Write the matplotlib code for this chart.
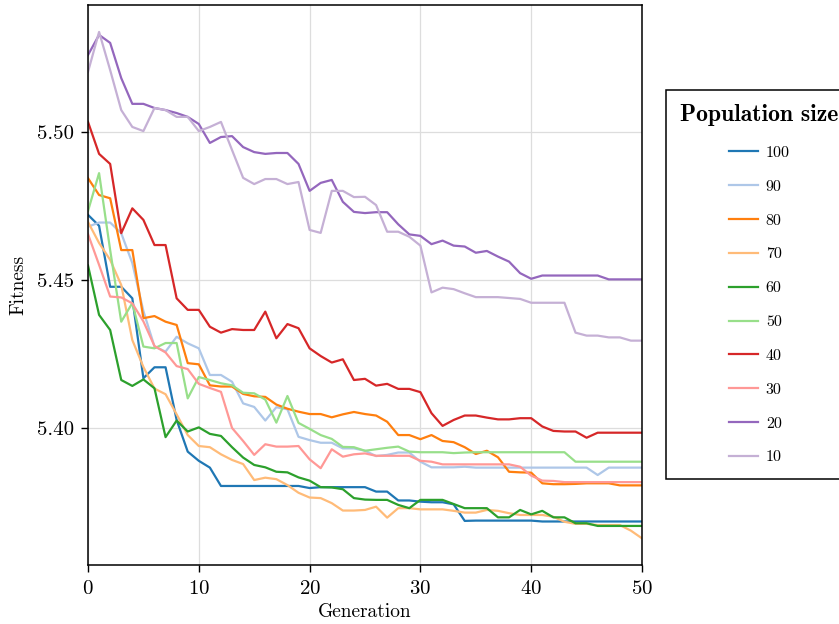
import numpy as np
import matplotlib
matplotlib.use("Agg")
import matplotlib.pyplot as plt
from matplotlib.ticker import FormatStrFormatter
from matplotlib.font_manager import FontProperties

plt.rcParams["font.family"] = ["cmr10", "DejaVu Serif"]
plt.rcParams["mathtext.fontset"] = "cm"
plt.rcParams["axes.formatter.use_mathtext"] = True

generations = np.arange(51)

pop_sizes = ["100", "90", "80", "70", "60", "50", "40", "30", "20", "10"]
colors = ["#1f77b4", "#aec7e8", "#ff7f0e", "#ffbb78", "#2ca02c",
          "#98df8a", "#d62728", "#ff9896", "#9467bd", "#c5b0d5"]

fit_100 = [5.4720, 5.4683, 5.4477, 5.4477, 5.4438, 5.4168, 5.4205, 5.4205, 5.4027, 5.3920,
           5.3889, 5.3866, 5.3804, 5.3804, 5.3804, 5.3804, 5.3804, 5.3804, 5.3804, 5.3804,
           5.3797, 5.3800, 5.3800, 5.3800, 5.3800, 5.3800, 5.3785, 5.3785, 5.3755, 5.3755,
           5.3751, 5.3749, 5.3749, 5.3742, 5.3686, 5.3687, 5.3687, 5.3687, 5.3687, 5.3687,
           5.3687, 5.3684, 5.3684, 5.3684, 5.3684, 5.3684, 5.3684, 5.3684, 5.3684, 5.3684,
           5.3684]
fit_90 = [5.4680, 5.4694, 5.4694, 5.4658, 5.4557, 5.4395, 5.4275, 5.4258, 5.4308, 5.4286,
          5.4269, 5.4179, 5.4179, 5.4156, 5.4083, 5.4071, 5.4025, 5.4070, 5.4063, 5.3970,
          5.3959, 5.3950, 5.3950, 5.3931, 5.3931, 5.3923, 5.3905, 5.3909, 5.3917, 5.3917,
          5.3886, 5.3867, 5.3867, 5.3867, 5.3869, 5.3866, 5.3866, 5.3866, 5.3866, 5.3866,
          5.3866, 5.3866, 5.3866, 5.3866, 5.3866, 5.3866, 5.3841, 5.3866, 5.3866, 5.3866,
          5.3866]
fit_80 = [5.4844, 5.4787, 5.4776, 5.4601, 5.4601, 5.4371, 5.4378, 5.4359, 5.4348, 5.4219,
          5.4215, 5.4144, 5.4140, 5.4140, 5.4115, 5.4107, 5.4105, 5.4079, 5.4065, 5.4055,
          5.4047, 5.4047, 5.4036, 5.4046, 5.4054, 5.4047, 5.4042, 5.4021, 5.3976, 5.3976,
          5.3962, 5.3976, 5.3956, 5.3952, 5.3935, 5.3912, 5.3923, 5.3901, 5.3852, 5.3850,
          5.3849, 5.3813, 5.3810, 5.3810, 5.3811, 5.3813, 5.3813, 5.3813, 5.3806, 5.3806,
          5.3806]
fit_70 = [5.4696, 5.4625, 5.4568, 5.4483, 5.4297, 5.4206, 5.4133, 5.4114, 5.4046, 5.3976,
          5.3939, 5.3935, 5.3911, 5.3892, 5.3878, 5.3824, 5.3832, 5.3827, 5.3807, 5.3781,
          5.3765, 5.3763, 5.3746, 5.3721, 5.3721, 5.3723, 5.3734, 5.3697, 5.3729, 5.3729,
          5.3725, 5.3725, 5.3725, 5.3720, 5.3714, 5.3714, 5.3723, 5.3720, 5.3712, 5.3706,
          5.3706, 5.3706, 5.3700, 5.3683, 5.3676, 5.3676, 5.3672, 5.3672, 5.3672, 5.3653,
          5.3627]
fit_60 = [5.4549, 5.4382, 5.4331, 5.4162, 5.4142, 5.4164, 5.4134, 5.3969, 5.4025, 5.3988,
          5.4002, 5.3980, 5.3973, 5.3935, 5.3900, 5.3875, 5.3867, 5.3852, 5.3850, 5.3833,
          5.3822, 5.3800, 5.3799, 5.3793, 5.3763, 5.3758, 5.3757, 5.3757, 5.3740, 5.3729,
          5.3757, 5.3757, 5.3757, 5.3743, 5.3729, 5.3729, 5.3729, 5.3698, 5.3698, 5.3723,
          5.3708, 5.3720, 5.3698, 5.3698, 5.3678, 5.3678, 5.3669, 5.3669, 5.3669, 5.3669,
          5.3669]
fit_50 = [5.4733, 5.4861, 5.4601, 5.4359, 5.4422, 5.4275, 5.4269, 5.4287, 5.4287, 5.4100,
          5.4172, 5.4162, 5.4151, 5.4144, 5.4119, 5.4117, 5.4096, 5.4018, 5.4108, 5.4017,
          5.3997, 5.3976, 5.3963, 5.3936, 5.3935, 5.3923, 5.3928, 5.3933, 5.3937, 5.3920,
          5.3918, 5.3918, 5.3918, 5.3915, 5.3917, 5.3918, 5.3918, 5.3918, 5.3918, 5.3918,
          5.3918, 5.3918, 5.3918, 5.3918, 5.3886, 5.3886, 5.3886, 5.3886, 5.3886, 5.3886,
          5.3886]
fit_40 = [5.5034, 5.4926, 5.4892, 5.4658, 5.4742, 5.4703, 5.4618, 5.4618, 5.4438, 5.4399,
          5.4399, 5.4342, 5.4322, 5.4334, 5.4331, 5.4331, 5.4393, 5.4303, 5.4351, 5.4337,
          5.4269, 5.4243, 5.4221, 5.4232, 5.4162, 5.4166, 5.4143, 5.4149, 5.4132, 5.4132,
          5.4121, 5.4050, 5.4007, 5.4027, 5.4042, 5.4042, 5.4035, 5.4029, 5.4029, 5.4033,
          5.4033, 5.4005, 5.3990, 5.3988, 5.3988, 5.3967, 5.3984, 5.3984, 5.3984, 5.3984,
          5.3984]
fit_30 = [5.4655, 5.4551, 5.4444, 5.4441, 5.4421, 5.4360, 5.4277, 5.4255, 5.4209, 5.4199,
          5.4149, 5.4135, 5.4122, 5.4000, 5.3956, 5.3909, 5.3945, 5.3937, 5.3937, 5.3939,
          5.3894, 5.3864, 5.3928, 5.3903, 5.3911, 5.3914, 5.3906, 5.3906, 5.3906, 5.3906,
          5.3889, 5.3886, 5.3877, 5.3877, 5.3877, 5.3877, 5.3877, 5.3877, 5.3877, 5.3869,
          5.3839, 5.3822, 5.3821, 5.3817, 5.3817, 5.3817, 5.3817, 5.3817, 5.3817, 5.3817,
          5.3817]
fit_20 = [5.5260, 5.5328, 5.5301, 5.5182, 5.5095, 5.5095, 5.5081, 5.5074, 5.5064, 5.5051,
          5.5027, 5.4963, 5.4983, 5.4986, 5.4949, 5.4932, 5.4926, 5.4929, 5.4929, 5.4892,
          5.4801, 5.4828, 5.4838, 5.4764, 5.4730, 5.4726, 5.4729, 5.4729, 5.4688, 5.4654,
          5.4649, 5.4621, 5.4633, 5.4616, 5.4613, 5.4592, 5.4598, 5.4579, 5.4562, 5.4523,
          5.4504, 5.4515, 5.4515, 5.4515, 5.4515, 5.4515, 5.4515, 5.4502, 5.4502, 5.4502,
          5.4502]
fit_10 = [5.5203, 5.5338, 5.5209, 5.5074, 5.5017, 5.5003, 5.5081, 5.5074, 5.5051, 5.5051,
          5.5003, 5.5017, 5.5034, 5.4939, 5.4845, 5.4824, 5.4841, 5.4841, 5.4824, 5.4831,
          5.4669, 5.4659, 5.4801, 5.4801, 5.4780, 5.4781, 5.4753, 5.4663, 5.4663, 5.4646,
          5.4616, 5.4458, 5.4474, 5.4469, 5.4455, 5.4442, 5.4442, 5.4442, 5.4439, 5.4436,
          5.4423, 5.4423, 5.4423, 5.4423, 5.4322, 5.4312, 5.4312, 5.4306, 5.4306, 5.4295,
          5.4295]

series = [fit_100, fit_90, fit_80, fit_70, fit_60, fit_50, fit_40, fit_30, fit_20, fit_10]

fig = plt.figure(figsize=(8.39, 6.24), dpi=100)
ax = fig.add_axes([88 / 839, 1 - 565 / 624, 554 / 839, 560 / 624])

for label, color, values in zip(pop_sizes, colors, series):
    ax.plot(generations, values, color=color, lw=1.6, label=label)

ax.set_xlim(0, 50)
ax.set_ylim(5.3537, 5.5429)
ax.set_xticks([0, 10, 20, 30, 40, 50])
ax.set_yticks([5.40, 5.45, 5.50])
ax.yaxis.set_major_formatter(FormatStrFormatter("%.2f"))
ax.grid(True, color="#dddddd", lw=0.9)
ax.set_axisbelow(True)
ax.tick_params(axis="both", labelsize=15, length=5, width=1, direction="out")
ax.tick_params(axis="x", pad=6)
ax.tick_params(axis="y", pad=5)
for sp in ax.spines.values():
    sp.set_linewidth(1.1)
    sp.set_color("black")

ax.set_xlabel("Generation", fontsize=14, labelpad=3.5)
ax.set_ylabel("Fitness", fontsize=14, labelpad=7)

leg = ax.legend(loc="upper left", bbox_to_anchor=(666 / 839, 1 - 90 / 624),
                bbox_transform=fig.transFigure, borderaxespad=0,
                title="Population size",
                title_fontproperties=FontProperties(family=["cmb10", "DejaVu Serif"], size=17),
                fontsize=11.5, handlelength=1.8, handletextpad=0.5,
                labelspacing=1.23, borderpad=0.9, fancybox=False,
                edgecolor="black", framealpha=1)
leg.get_frame().set_linewidth(1.1)
leg._legend_box.sep = 14

fig.savefig("out.png", dpi=100)
